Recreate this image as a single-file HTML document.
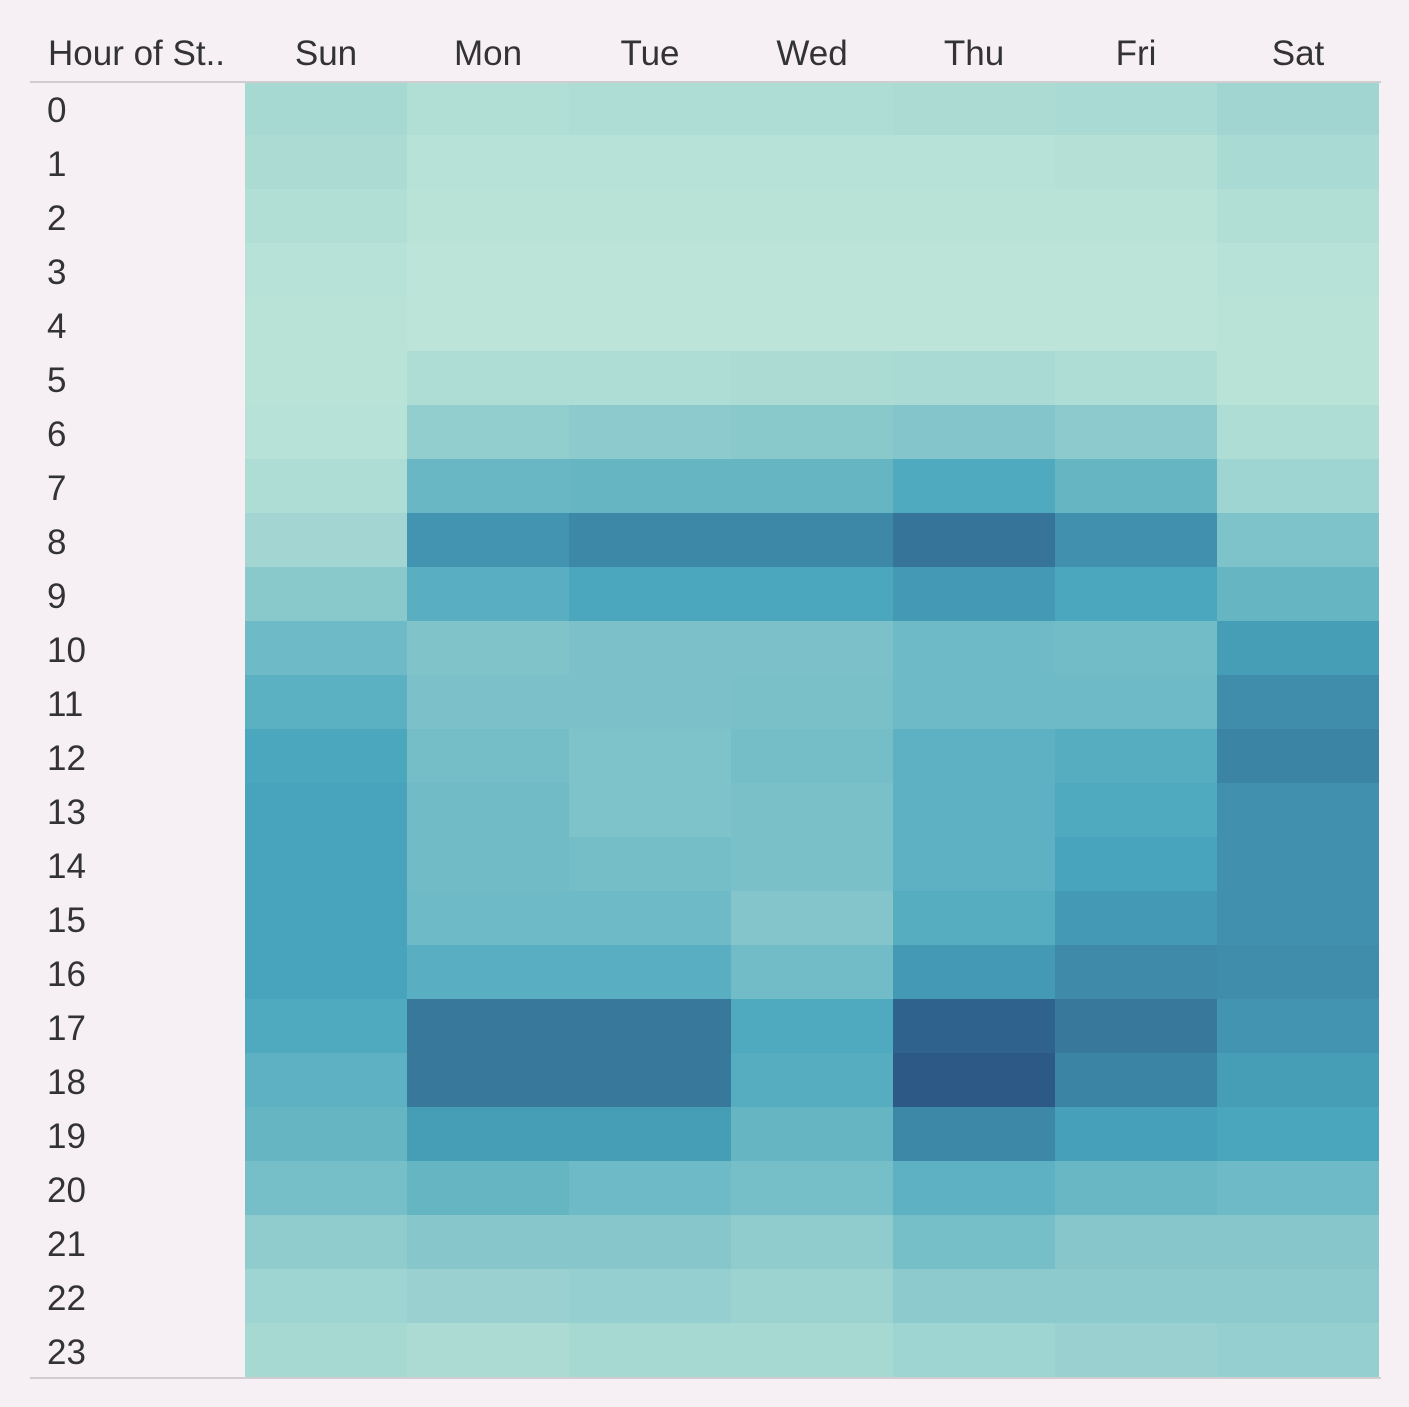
<!DOCTYPE html>
<html><head><meta charset="utf-8"><style>
html,body{margin:0;padding:0;background:#f6f0f5;}
svg{display:block;font-family:"Liberation Sans",sans-serif;}
</style></head><body>
<svg id="chart" width="1409" height="1407">
<rect x="0" y="0" width="1409" height="1407" fill="#f6f0f5"/>
<g id="cells"></g>
<g id="labels"></g>
<line x1="30" y1="82" x2="1381" y2="82" stroke="#d0cdd0" stroke-width="2"/>
<line x1="30" y1="1378" x2="1381" y2="1378" stroke="#d0cdd0" stroke-width="2"/>
</svg>
<script>
const days = ["Sun","Mon","Tue","Wed","Thu","Fri","Sat"];
const hours = ["0","1","2","3","4","5","6","7","8","9","10","11","12","13","14","15","16","17","18","19","20","21","22","23"];
const values = [
[9,5,6,6,7,8,12],
[7,2,2,2,2,3,8],
[5,1,1,1,1,1,5],
[2,0,0,0,0,0,2],
[1,0,0,0,0,0,1],
[1,6,6,7,8,6,1],
[2,18,21,22,25,21,6],
[6,36,38,38,47,38,13],
[11,62,70,70,82,64,27],
[22,43,49,49,58,49,38],
[34,26,28,28,34,32,56],
[42,28,28,29,34,34,66],
[49,31,27,31,41,44,72],
[51,33,27,29,41,47,64],
[51,33,31,29,41,51,64],
[51,34,34,25,44,58,64],
[51,43,43,32,58,68,66],
[47,80,80,47,94,80,62],
[41,80,80,44,100,72,56],
[38,56,56,38,70,54,50],
[30,38,34,30,41,36,34],
[19,23,23,19,30,23,23],
[13,15,17,14,21,21,21],
[9,7,9,9,13,15,17]
];
const NS="http://www.w3.org/2000/svg";
const x0=245, colW=162, y0=81, rowH=54;
const xPos=i=>x0+i*colW;
const yPos=j=>y0+j*rowH;
const stops=[[0,[188,228,216]],[50,[73,166,189]],[100,[44,89,133]]];
function color(v){
  let a=stops[0],b=stops[1];
  if(v>50){a=stops[1];b=stops[2];}
  const t=(v-a[0])/(b[0]-a[0]);
  const c=a[1].map((x,k)=>Math.round(x+(b[1][k]-x)*t));
  return `rgb(${c[0]},${c[1]},${c[2]})`;
}
const cells=document.getElementById('cells');
const labels=document.getElementById('labels');
values.forEach((row,j)=>{
  row.forEach((v,i)=>{
    const r=document.createElementNS(NS,'rect');
    r.setAttribute('x',xPos(i));r.setAttribute('y',yPos(j));
    r.setAttribute('width',colW);r.setAttribute('height',rowH);
    r.setAttribute('fill',color(v));
    
    
    cells.appendChild(r);
  });
});
function txt(s,x,y,anchor,name){
  const t=document.createElementNS(NS,'text');
  t.setAttribute('x',x);t.setAttribute('y',y);
  t.setAttribute('font-size','35');t.setAttribute('fill','#333');
  t.setAttribute('text-anchor',anchor);
  t.textContent=s;
  
  
  labels.appendChild(t);
}
txt("Hour of St..",48,65,"start","row-header-title");
days.forEach((d,i)=>txt(d,xPos(i)+colW/2,65,"middle","column-header-"+d.toLowerCase()));
hours.forEach((h,j)=>txt(h,47,yPos(j)+41,"start","row-label-"+h));
</script>
</body></html>
